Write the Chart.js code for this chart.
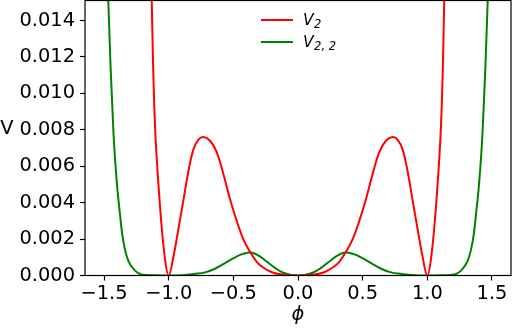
<!DOCTYPE html>
<html>
<head>
<meta charset="utf-8">
<script src="https://cdn.jsdelivr.net/npm/chart.js@4"></script>
<style>
html,body{margin:0;padding:0;background:#fff;}
canvas{display:block;}
</style>
</head>
<body>
<canvas id="c" width="512" height="329"></canvas>
<script>
// ---- data ----
const phiRed = [-1.17,-1.131,-1.106,-1.067,-1.03,-1.0,-0.964,-0.926,-0.887,-0.848,-0.81,-0.771,-0.73,-0.68,-0.63,-0.578,-0.526,-0.474,-0.423,-0.371,-0.319,-0.281,-0.203,-0.126,0,
  0.126,0.203,0.281,0.319,0.371,0.423,0.474,0.526,0.578,0.63,0.68,0.73,0.771,0.81,0.848,0.887,0.926,0.964,1.0,1.03,1.067,1.106,1.131,1.17];
const vRed = [0.029,0.0151,0.0083,0.0038,0.0010,0,0.0010,0.0025,0.0041,0.0057,0.0069,0.00745,0.0076,0.0074,0.0068,0.0056,0.0042,0.0030,0.0020,0.0013,0.00075,0.0005,0.00018,0.00005,0,
  0.00005,0.00018,0.0005,0.00075,0.0013,0.0020,0.0030,0.0042,0.0056,0.0068,0.0074,0.0076,0.00745,0.0069,0.0057,0.0041,0.0025,0.0010,0,0.0010,0.0038,0.0083,0.0151,0.029];
const phiGreen = [-1.5,-1.467,-1.428,-1.402,-1.377,-1.351,-1.312,-1.261,-1.21,-1.1,-1.0,-0.9,-0.797,-0.719,-0.642,-0.565,-0.487,-0.423,-0.365,-0.307,-0.242,-0.178,-0.114,-0.049,0,
  0.049,0.114,0.178,0.242,0.307,0.365,0.423,0.487,0.565,0.642,0.719,0.797,0.9,1.0,1.1,1.21,1.261,1.312,1.351,1.377,1.402,1.428,1.467,1.5];
const vGreen = [0.024,0.0151,0.0080,0.0052,0.0034,0.0019,0.0008,0.00027,0.00006,0.00001,0,0.00002,0.00009,0.00017,0.00037,0.00068,0.0010,0.00119,0.00126,0.0011,0.00077,0.00042,0.00015,0.00003,0,
  0.00003,0.00015,0.00042,0.00077,0.0011,0.00126,0.00119,0.0010,0.00068,0.00037,0.00017,0.00009,0.00002,0,0.00001,0.00006,0.00027,0.0008,0.0019,0.0034,0.0052,0.0080,0.0151,0.024];
const xTicks = [-1.5,-1.0,-0.5,0.0,0.5,1.0,1.5];
const yTicks = [0.000,0.002,0.004,0.006,0.008,0.010,0.012,0.014];
const seriesNames = ['V', 'V'];
const seriesSubs = ['2', '2, 2'];
const xLabel = 'ϕ';
const yLabel = 'V';

const pts = (xs, ys) => xs.map((x, i) => ({x: x, y: ys[i]}));

const FONT = "'DejaVu Sans', sans-serif";
const FS = 19.4;

const decor = {
  id: 'decor',
  afterDraw(chart) {
    const ctx = chart.ctx;
    const a = chart.chartArea;
    ctx.save();
    // frame
    ctx.strokeStyle = '#000';
    ctx.lineWidth = 1.2;
    ctx.strokeRect(a.left, a.top, a.right - a.left, a.bottom - a.top);
    // axis labels
    ctx.fillStyle = '#000';
    ctx.textBaseline = 'middle';
    ctx.textAlign = 'center';
    ctx.font = "italic " + FS + "px " + FONT;
    ctx.fillText(xLabel, (a.left + a.right) / 2, 315);
    ctx.font = FS + "px " + FONT;
    ctx.fillText(yLabel, 7, 129);
    // legend
    const colors = ['#ff0000', '#008000'];
    const ys = [20, 42];
    for (let i = 0; i < 2; i++) {
      ctx.strokeStyle = colors[i];
      ctx.lineWidth = 2;
      ctx.beginPath();
      ctx.moveTo(261, ys[i]);
      ctx.lineTo(293, ys[i]);
      ctx.stroke();
      ctx.fillStyle = '#000';
      ctx.textAlign = 'left';
      ctx.textBaseline = 'alphabetic';
      ctx.font = "italic 15.5px " + FONT;
      ctx.fillText(seriesNames[i], 303, ys[i] + 5);
      const w = ctx.measureText(seriesNames[i]).width;
      ctx.font = "italic 11.5px " + FONT;
      ctx.fillText(seriesSubs[i], 303 + w + 0.5, ys[i] + 8);
    }
    ctx.restore();
  }
};

new Chart(document.getElementById('c'), {
  type: 'line',
  data: {
    datasets: [
      {label: 'V2', data: pts(phiRed, vRed), borderColor: '#ff0000', borderWidth: 2, pointRadius: 0, tension: 0.4, fill: false},
      {label: 'V22', data: pts(phiGreen, vGreen), borderColor: '#008000', borderWidth: 2, pointRadius: 0, tension: 0.4, fill: false}
    ]
  },
  options: {
    responsive: false,
    devicePixelRatio: 1,
    animation: false,
    layout: {padding: {top: 0.5, right: 1, left: 0, bottom: 0}},
    plugins: {legend: {display: false}, tooltip: {enabled: false}},
    scales: {
      x: {
        type: 'linear', min: -1.647, max: 1.647,
        afterBuildTicks: (s) => { s.ticks = xTicks.map(v => ({value: v})); },
        afterFit: (s) => { s.height = 53.5; s.paddingLeft = 0; s.paddingRight = 0; },
        grid: {drawOnChartArea: false, drawTicks: true, tickLength: 5, color: '#000', tickWidth: 1.2},
        border: {display: false},
        ticks: {
          color: '#000', padding: 2, maxRotation: 0, autoSkip: false,
          font: {family: FONT, size: FS},
          callback: (v) => v.toFixed(1).replace('-', '\u2212')
        }
      },
      y: {
        type: 'linear', min: 0, max: 0.0151,
        afterBuildTicks: (s) => { s.ticks = yTicks.map(v => ({value: v})); },
        afterFit: (s) => { s.width = 85; s.paddingTop = 0; s.paddingBottom = 0; },
        grid: {drawOnChartArea: false, drawTicks: true, tickLength: 5, color: '#000', tickWidth: 1.2},
        border: {display: false},
        ticks: {
          color: '#000', padding: 5, autoSkip: false,
          font: {family: FONT, size: FS},
          callback: (v) => v.toFixed(3)
        }
      }
    }
  },
  plugins: [decor]
});
</script>
</body>
</html>
